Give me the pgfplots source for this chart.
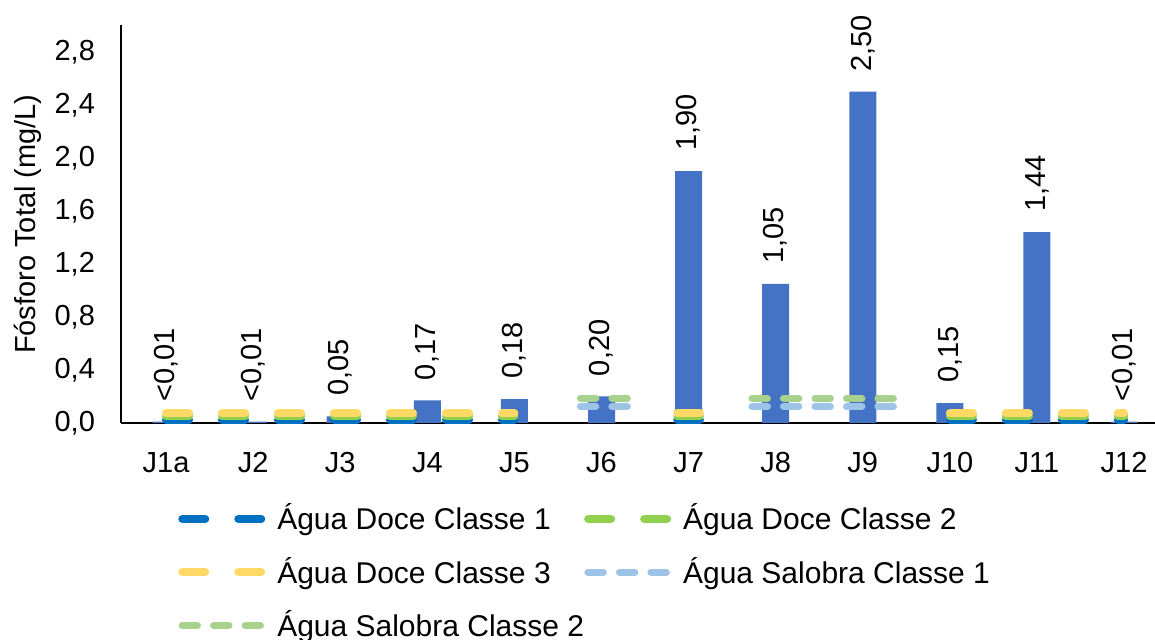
\documentclass[border=0pt]{standalone}
\usepackage{fontspec}
\setmainfont{Liberation Sans}
\usepackage{pgfplots}
\pgfplotsset{compat=1.18}
\definecolor{barblue}{HTML}{4472C4}
\definecolor{doceA}{HTML}{0070C0}
\definecolor{doceB}{HTML}{92D050}
\definecolor{doceC}{HTML}{FFD966}
\definecolor{salA}{HTML}{9DC3E6}
\definecolor{salB}{HTML}{A9D18E}
\begin{document}
\fontsize{14.5}{17}\selectfont
\begin{tikzpicture}
\begin{axis}[
  scale only axis, width=517pt, height=198.75pt,
  xmin=-0.517, xmax=11.355, ymin=0, ymax=3.0,
  clip=false,
  axis x line*=bottom, axis y line*=left,
  axis line style={line width=1.2pt, black, -},
  major tick length=0pt,
  xtick={0,1,2,3,4,5,6,7,8,9,10,11},
  xticklabels={J1a,J2,J3,J4,J5,J6,J7,J8,J9,J10,J11,J12},
  ytick={0,0.4,0.8,1.2,1.6,2.0,2.4,2.8},
  yticklabel style={/pgf/number format/fixed, /pgf/number format/fixed zerofill, /pgf/number format/precision=1, /pgf/number format/use comma, /pgf/number format/assume math mode=true, xshift=-8pt},
  xticklabel style={yshift=-9.5pt},
  tick label style={font=\fontsize{14.5}{17}\selectfont},
  ylabel={Fósforo Total (mg/L)},
  ylabel style={at={(axis description cs:-0.09,0.5)}, anchor=center, font=\fontsize{14.5}{17}\selectfont},
  legend columns=2,
  legend cell align=left,
  legend style={draw=none, fill=none, inner sep=0pt, at={(axis description cs:0.055,-0.192)}, anchor=north west,
    font=\fontsize{15}{18}\selectfont, row sep=7.5pt,
    /tikz/every even column/.append style={column sep=-2pt}},
  legend image code/.code={\draw[#1] (0pt,0pt) -- (39.5pt,0pt); \path (43.5pt,0pt);},
]
\addplot[ybar, bar width=0.31, bar shift=0pt, fill=barblue, draw=none, forget plot,
  point meta=explicit symbolic, nodes near coords,
  nodes near coords style={rotate=90, anchor=west, inner xsep=10pt, font=\fontsize{14.5}{17}\selectfont, text=black}]
  coordinates {(0,0.01)[<0,01] (1,0.01)[<0,01] (2,0.05)[0,05] (3,0.17)[0,17] (4,0.18)[0,18] (5,0.20)[0,20]
  (6,1.90)[1,90] (7,1.05)[1,05] (8,2.50)[2,50] (9,0.15)[0,15] (10,1.44)[1,44] (11,0.01)[<0,01]};

\addplot[doceA, mark=none, line width=4pt, line cap=round, dash pattern=on 11.5pt off 16.5pt, unbounded coords=jump]
  coordinates {(0,0.025) (4,0.025) (4.5,nan) (5.87,0.025) (6.13,0.025) (6.5,nan) (9,0.025) (11,0.025)};
\addlegendentry{Água Doce Classe 1}
\addplot[doceB, mark=none, line width=4pt, line cap=round, dash pattern=on 11.5pt off 16.5pt, unbounded coords=jump]
  coordinates {(0,0.05) (4,0.05) (4.5,nan) (5.87,0.05) (6.13,0.05) (6.5,nan) (9,0.05) (11,0.05)};
\addlegendentry{Água Doce Classe 2}
\addplot[doceC, mark=none, line width=4pt, line cap=round, dash pattern=on 11.5pt off 16.5pt, unbounded coords=jump]
  coordinates {(0,0.075) (4,0.075) (4.5,nan) (5.87,0.075) (6.13,0.075) (6.5,nan) (9,0.075) (11,0.075)};
\addlegendentry{Água Doce Classe 3}
\addplot[salA, mark=none, line width=3.75pt, line cap=round, dash pattern=on 7.5pt off 8.25pt, unbounded coords=jump]
  coordinates {(4.76,0.124) (5.30,0.124) (6,nan) (6.73,0.124) (8.37,0.124)};
\addlegendentry{Água Salobra Classe 1}
\addplot[salB, mark=none, line width=3.75pt, line cap=round, dash pattern=on 7.5pt off 8.25pt, unbounded coords=jump]
  coordinates {(4.76,0.186) (5.30,0.186) (6,nan) (6.73,0.186) (8.37,0.186)};
\addlegendentry{Água Salobra Classe 2}
\end{axis}
\pgfresetboundingbox
\path[use as bounding box] (-60.5pt,-108.5pt) rectangle (517pt,211.5pt);
\end{tikzpicture}
\end{document}
